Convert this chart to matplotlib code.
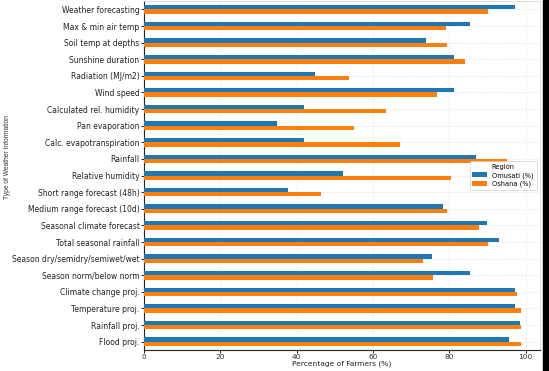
import matplotlib
matplotlib.use("Agg")
import matplotlib.pyplot as plt
import numpy as np
from matplotlib.patches import Rectangle

# categories, top to bottom as shown
categories = [
    "Weather forecasting", "Max & min air temp", "Soil temp at depths",
    "Sunshine duration", "Radiation (MJ/m2)", "Wind speed",
    "Calculated rel. humidity", "Pan evaporation", "Calc. evapotranspiration",
    "Rainfall", "Relative humidity", "Short range forecast (48h)",
    "Medium range forecast (10d)", "Seasonal climate forecast",
    "Total seasonal rainfall", "Season dry/semidry/semiwet/wet",
    "Season norm/below norm", "Climate change proj.", "Temperature proj.",
    "Rainfall proj.", "Flood proj.",
]
omusati = [97.1, 85.5, 73.9, 81.2, 44.9, 81.2, 41.9, 34.8, 41.9, 87.0, 52.2,
           37.7, 78.3, 89.9, 92.9, 75.4, 85.5, 97.1, 97.1, 98.6, 95.7]
oshana = [90.2, 79.2, 79.3, 84.0, 53.7, 76.8, 63.3, 54.9, 67.1, 95.1, 80.5,
          46.3, 79.3, 87.8, 90.2, 73.2, 75.6, 97.6, 98.8, 98.8, 98.8]

BLUE = '#1f77b4'
ORANGE = '#ff7f0e'
FS = 5.5

fig = plt.figure(figsize=(5.49, 3.71), dpi=100)
ax = fig.add_axes([0.2623, 0.0566, 0.7213, 0.9404])

# first category at the top, like pandas barh on reversed rows
n = len(categories)
y = np.arange(n)[::-1]
h = 0.26
ax.barh(y + h / 2, omusati, height=h, color=BLUE, label='Omusati (%)', zorder=3)
ax.barh(y - h / 2, oshana, height=h, color=ORANGE, label='Oshana (%)', zorder=3)

ax.set_ylim(-0.5, n - 0.5)
ax.set_yticks(y)
ax.set_yticklabels(categories, fontsize=FS, color='#222222')
ax.set_xticks([0, 20, 40, 60, 80, 100])
ax.tick_params(axis='x', labelsize=5.3, length=1.8, width=0.6, pad=0.8, labelcolor='#333333')
ax.tick_params(axis='y', length=2, width=0.6, pad=1.2)

ax.grid(True, linestyle='--', linewidth=0.4, color='#e4e4e4', zorder=0)
for side in ['left', 'bottom']:
    ax.spines[side].set_color('#222222')
    ax.spines[side].set_linewidth(0.8)
for side in ['right', 'top']:
    ax.spines[side].set_color('#d8d8d8')
    ax.spines[side].set_linewidth(0.6)

ax.set_xlabel('Percentage of Farmers (%)', fontsize=5.4, color='#222222')
ax.xaxis.set_label_coords(0.5, -0.031)
ax.set_ylabel('Type of Weather Information', fontsize=4.8, family='Liberation Sans',
              color='#333333')
ax.yaxis.set_label_coords(-0.335, 0.553)

leg = ax.legend(title='Region', loc='center right', fontsize=4.8, title_fontsize=4.8,
                frameon=True, framealpha=0.9, edgecolor='#cccccc', fancybox=True,
                handlelength=2.2, borderpad=0.4, labelspacing=0.3)
leg.get_frame().set_linewidth(0.5)

# screenshot edge
fig.patches.append(Rectangle((0.989, 0), 0.011, 1, transform=fig.transFigure,
                             color='black', zorder=10))

fig.savefig('out.png', dpi=100)
